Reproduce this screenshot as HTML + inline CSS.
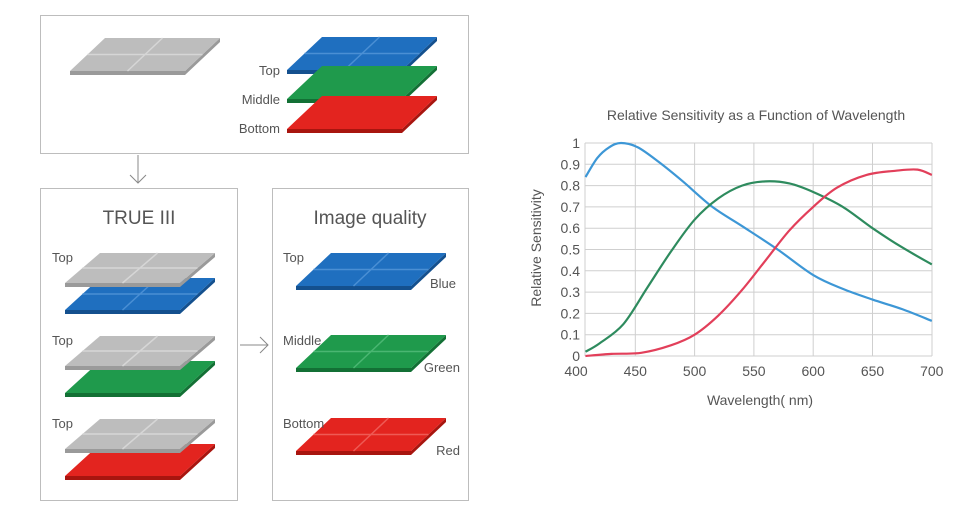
<!DOCTYPE html>
<html><head><meta charset="utf-8"><style>
html,body{margin:0;padding:0;background:#fff;}
svg{display:block;font-family:"Liberation Sans",sans-serif;}
</style></head><body>
<svg id="s" width="960" height="524" viewBox="0 0 960 524" xmlns="http://www.w3.org/2000/svg">
<rect x="0" y="0" width="960" height="524" fill="#fff"/>
<rect x="40.5" y="15.5" width="428" height="138" fill="none" stroke="#bdbdbd"/>
<rect x="40.5" y="188.5" width="197" height="312" fill="none" stroke="#bdbdbd"/>
<rect x="272.5" y="188.5" width="196" height="312" fill="none" stroke="#bdbdbd"/>
<g stroke="#888" fill="none" stroke-width="1">
<line x1="138" y1="155" x2="138" y2="183"/><polyline points="130,175 138,183 146,175"/>
<line x1="240" y1="345" x2="268" y2="345"/><polyline points="260,337 268,345 260,353"/>
</g>
<g id="tiles"></g>
<g fill="#555" font-size="13">
<text x="280" y="75" text-anchor="end">Top</text>
<text x="280" y="104" text-anchor="end">Middle</text>
<text x="280" y="133" text-anchor="end">Bottom</text>
<text x="52" y="262">Top</text>
<text x="52" y="345">Top</text>
<text x="52" y="428">Top</text>
<text x="283" y="262">Top</text>
<text x="283" y="345">Middle</text>
<text x="283" y="428">Bottom</text>
<text x="456" y="288" text-anchor="end">Blue</text>
<text x="460" y="372" text-anchor="end">Green</text>
<text x="460" y="455" text-anchor="end">Red</text>
</g>
<text x="139" y="224" font-size="19" fill="#555" text-anchor="middle">TRUE III</text>
<text x="370" y="224" font-size="19" fill="#555" text-anchor="middle">Image quality</text>
<g id="chart"></g>
<text x="756" y="120" font-size="14" fill="#555" text-anchor="middle">Relative Sensitivity as a Function of Wavelength</text>
<text transform="translate(541,248) rotate(-90)" font-size="14" fill="#555" text-anchor="middle">Relative Sensitivity</text>
<text x="760" y="405" font-size="14" fill="#555" text-anchor="middle">Wavelength( nm)</text>
</svg>
<script>
var NS="http://www.w3.org/2000/svg";
function el(p,t,a){var e=document.createElementNS(NS,t);for(var k in a)e.setAttribute(k,a[k]);p.appendChild(e);return e;}
var T=document.getElementById("tiles");
var C={g:["#bdbdbd","#9a9a9a","#d6d6d6"],b:["#1f6fbf","#14508e","#4a8fd4"],gr:["#1f9a4c","#137035","#4ab672"],r:["#e3241f","#a8150f","#ee5a55"]};
function layer(x0,y0,w,h,sk,c,split){
  var th=4,cl=C[c];
  el(T,"polygon",{points:[x0,y0+h,x0+w,y0+h,x0+w+sk,y0,x0+w+sk,y0+th,x0+w,y0+h+th,x0,y0+h+th].join(" "),fill:cl[1]});
  el(T,"polygon",{points:[x0+sk,y0,x0+sk+w,y0,x0+w,y0+h,x0,y0+h].join(" "),fill:cl[0]});
  if(split){
    el(T,"line",{x1:x0+sk/2,y1:y0+h/2,x2:x0+sk/2+w,y2:y0+h/2,stroke:cl[2],"stroke-width":1.5});
    el(T,"line",{x1:x0+sk+w/2,y1:y0,x2:x0+w/2,y2:y0+h,stroke:cl[2],"stroke-width":1.5});
  }
}
layer(70,38,115,33,35,"g",1);
layer(287,37,115,33,35,"b",1);
layer(287,66,115,33,35,"gr",0);
layer(287,96,115,33,35,"r",0);
layer(65,278,115,32,35,"b",1); layer(65,253,115,30,35,"g",1);
layer(65,361,115,32,35,"gr",0); layer(65,336,115,30,35,"g",1);
layer(65,444,115,32,35,"r",0); layer(65,419,115,30,35,"g",1);
layer(296,253,115,33,35,"b",1);
layer(296,335,115,33,35,"gr",1);
layer(296,418,115,33,35,"r",1);
var G=document.getElementById("chart");
function X(w){return 576+(w-400)*1.186;}
function Y(v){return 356-v*213;}
var L=585,R=932;
for(var i=0;i<=10;i++){var y=Y(i/10);el(G,"line",{x1:L,x2:R,y1:y,y2:y,stroke:"#cfcfcf"});
 var t=el(G,"text",{x:580,y:y+5,"font-size":14,fill:"#555","text-anchor":"end"});t.textContent=(i==10?"1":i==0?"0":(i/10).toFixed(1));}
el(G,"line",{x1:L,x2:L,y1:Y(1),y2:Y(0),stroke:"#cfcfcf"});
el(G,"line",{x1:R,x2:R,y1:Y(1),y2:Y(0),stroke:"#cfcfcf"});
for(var w=400;w<=700;w+=50){ if(w>400&&w<700) el(G,"line",{x1:X(w),x2:X(w),y1:Y(1),y2:Y(0),stroke:"#cfcfcf"});
 var t=el(G,"text",{x:X(w),y:376,"font-size":14,fill:"#555","text-anchor":"middle"});t.textContent=w;}
function curve(pts,col){
  var P=pts.map(function(p){return [X(p[0]),Y(p[1])];});
  var d="M"+P[0][0]+","+P[0][1];
  for(var i=0;i<P.length-1;i++){
    var p0=P[i-1]||P[i],p1=P[i],p2=P[i+1],p3=P[i+2]||P[i+1];
    d+=" C"+(p1[0]+(p2[0]-p0[0])/6)+","+(p1[1]+(p2[1]-p0[1])/6)+" "+(p2[0]-(p3[0]-p1[0])/6)+","+(p2[1]-(p3[1]-p1[1])/6)+" "+p2[0]+","+p2[1];
  }
  el(G,"path",{d:d,fill:"none",stroke:col,"stroke-width":2.2});
}
curve([[408,0.84],[418,0.93],[428,0.98],[438,1.0],[452,0.98],[470,0.91],[490,0.82],[515,0.7],[540,0.61],[570,0.5],[600,0.38],[625,0.315],[650,0.265],[675,0.22],[700,0.165]],"#3d97d6");
curve([[408,0.02],[420,0.06],[440,0.15],[460,0.32],[480,0.49],[500,0.64],[520,0.74],[540,0.8],[560,0.82],[580,0.81],[600,0.77],[625,0.7],[650,0.6],[675,0.51],[700,0.43]],"#2e8b5e");
curve([[408,0.0],[430,0.01],[455,0.015],[480,0.05],[500,0.1],[520,0.19],[540,0.31],[560,0.45],[580,0.59],[600,0.7],[620,0.79],[645,0.85],[670,0.87],[688,0.875],[700,0.85]],"#e23f5a");
</script>
</body></html>
